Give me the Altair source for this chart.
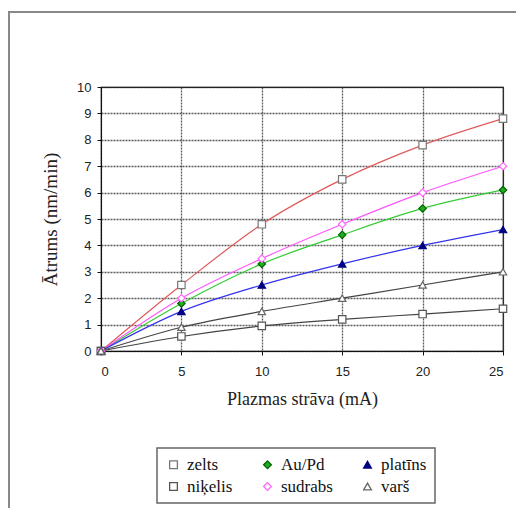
import altair as alt
import pandas as pd

current = [0, 5, 10, 15, 20, 25]
# order chosen so the 3-column legend reads row-wise like the original
series_names = ["zelts", "niķelis", "Au/Pd", "sudrabs", "platīns", "varš"]
zelts = [0, 2.5, 4.8, 6.5, 7.8, 8.8]
nikelis = [0, 0.55, 0.95, 1.2, 1.4, 1.6]
aupd = [0, 1.8, 3.3, 4.4, 5.4, 6.1]
sudrabs = [0, 2.0, 3.5, 4.8, 6.0, 7.0]
platins = [0, 1.5, 2.5, 3.3, 4.0, 4.6]
vars_ = [0, 0.9, 1.5, 2.0, 2.5, 3.0]

line_colors = ["#e05a5a", "#444444", "#33cc33", "#ff55ff", "#3333ee", "#444444"]
stroke_colors = ["#777777", "#555555", "#006600", "#ff66ff", "#000080", "#666666"]
fill_colors = ["#ffffff", "#ffffff", "#22aa22", "#ffffff", "#000080", "#ffffff"]
shapes = ["square", "square", "diamond", "diamond", "triangle-up", "triangle-up"]

values = [zelts, nikelis, aupd, sudrabs, platins, vars_]
rows = []
for name, vals, lc in zip(series_names, values, line_colors):
    for x, y in zip(current, vals):
        rows.append({"series": name, "x": x, "y": y, "lc": lc})
df = pd.DataFrame(rows)

serif = "Liberation Serif"
sans = "Liberation Sans"

xenc = alt.X("x:Q", scale=alt.Scale(domain=[0, 25], nice=False),
             axis=alt.Axis(title="Plazmas strāva (mA)", values=[0, 5, 10, 15, 20, 25],
                           titleFont=serif, titleFontSize=18, titleFontWeight="normal",
                           titleColor="#222", titlePadding=12, labelPadding=10))
yenc = alt.Y("y:Q", scale=alt.Scale(domain=[0, 10], nice=False),
             axis=alt.Axis(title="Ātrums (nm/min)", values=list(range(0, 11)), labelOverlap=False,
                           tickCount=11,
                           titleFont=serif, titleFontSize=19, titleFontWeight="normal",
                           titleColor="#222", titlePadding=16, labelPadding=6))

base = alt.Chart(df).encode(x=xenc, y=yenc)

frame = alt.Chart(pd.DataFrame({"a": [0]})).mark_rect(
    fill="transparent", stroke="#888888", strokeWidth=2
).encode(x=alt.value(-92), x2=alt.value(450), y=alt.value(-75), y2=alt.value(450))

lines = base.mark_line(interpolate="monotone", strokeWidth=1.2).encode(
    stroke=alt.Stroke("lc:N", scale=None),
    detail="series:N",
)

legend = alt.Legend(title=None, orient="none", legendX=56, legendY=361, columns=3,
                    labelFont=serif, labelFontSize=17)

points = base.mark_point(size=55, strokeWidth=1.2, opacity=1).encode(
    color=alt.Color("series:N", scale=alt.Scale(domain=series_names, range=stroke_colors), legend=legend),
    fill=alt.Fill("series:N", scale=alt.Scale(domain=series_names, range=fill_colors), legend=legend),
    shape=alt.Shape("series:N", scale=alt.Scale(domain=series_names, range=shapes), legend=legend),
)

chart = alt.layer(frame, lines, points).properties(
    width=402, height=264,
    background="white",
    autosize=alt.AutoSizeParams(type="none"),
    padding={"left": 93, "top": 79, "right": 13, "bottom": 157},
).configure(font=serif).configure_view(stroke="#111111", strokeWidth=1.2).configure_axis(
    labelFont=sans, labelFontSize=13, labelColor="#222",
    grid=True, gridColor="#333333", gridDash=[2, 1], gridWidth=1.3, gridOpacity=0.8,
    domainColor="#111", tickColor="#111", tickSize=4,
).configure_legend(
    labelFont=serif, labelFontSize=17, labelColor="#111", symbolSize=60,
    columnPadding=26, rowPadding=4, padding=8, fillColor="white",
    strokeColor="#666666", strokeWidth=1.5, labelOffset=5, symbolStrokeWidth=1.3,
)

chart.save("out.html", embed_options={"renderer": "svg", "actions": False})
